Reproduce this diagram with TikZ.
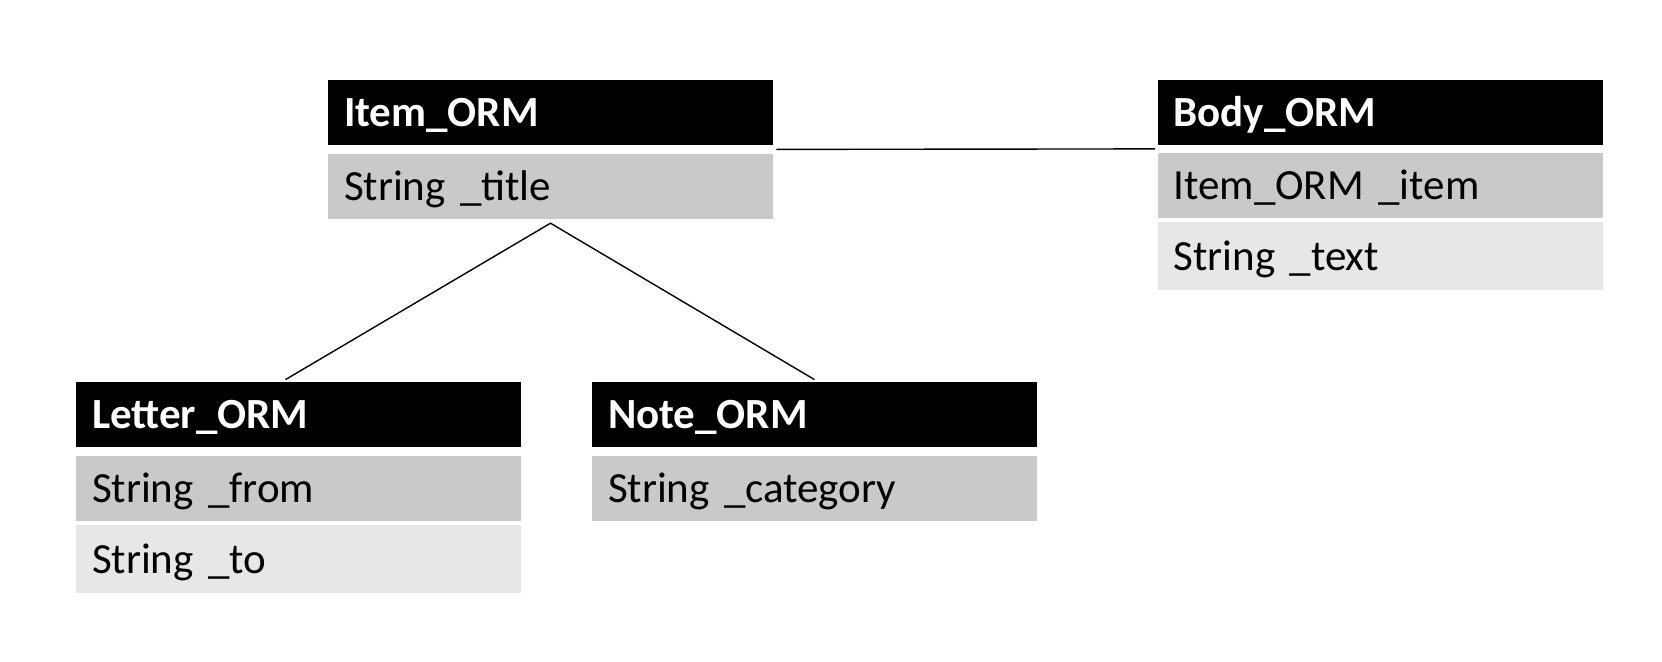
\documentclass[tikz,border=0pt]{standalone}
\usepackage{fontspec}
\setmainfont{Carlito}
\usepackage{xcolor}
\usetikzlibrary{positioning, calc}

\definecolor{rowdark}{HTML}{C9C9C9}
\definecolor{rowlight}{HTML}{E7E7E7}

\begin{document}
\begin{tikzpicture}[
    x=0.5pt, y=-0.5pt,
    tbl/.style={rectangle, inner sep=0pt, inner xsep=8pt, text width=206.5pt, align=left,
        minimum width=222.5pt, text height=14.5pt, text depth=0pt,
        font=\fontsize{21.5}{26}\selectfont},
    hbox/.style={tbl, fill=black, text=white, minimum height=32.5pt, font=\fontsize{21.5}{26}\selectfont\bfseries},
    dbox/.style={tbl, fill=rowdark, minimum height=32.5pt},
    lbox/.style={tbl, fill=rowlight, minimum height=34pt},
    lnk/.style={line width=0.7pt, color=black}
]
\useasboundingbox (0,0) rectangle (1662,662);

% Item_ORM
\node[hbox] (item_head) at (550.5,112.5) {Item\_ORM};
\node[dbox, below=4pt of item_head] (item_title) {String \_title};

% Body_ORM
\node[hbox] (body_head) at (1380,112.5) {Body\_ORM};
\node[dbox, below=3.5pt of body_head] (body_item) {Item\_ORM \_item};
\node[lbox, below=1.5pt of body_item] (body_text) {String \_text};

% Letter_ORM
\node[hbox] (letter_head) at (298.5,414.5) {Letter\_ORM};
\node[dbox, below=4pt of letter_head] (letter_from) {String \_from};
\node[lbox, below=1.5pt of letter_from] (letter_to) {String \_to};

% Note_ORM
\node[hbox] (note_head) at (814.5,414.5) {Note\_ORM};
\node[dbox, below=4pt of note_head] (note_cat) {String \_category};

\coordinate (apex) at ([yshift=-2pt]item_title.south);
\draw[lnk] ([xshift=1.5pt]$(item_head.south east)!0.5!(item_title.north east)$)
    -- ([xshift=-1pt]$(body_head.south west)!0.5!(body_item.north west)$);
\draw[lnk] ([xshift=-6.5pt,yshift=1pt]letter_head.north) -- (apex) -- ([yshift=1pt]note_head.north);

\end{tikzpicture}
\end{document}
